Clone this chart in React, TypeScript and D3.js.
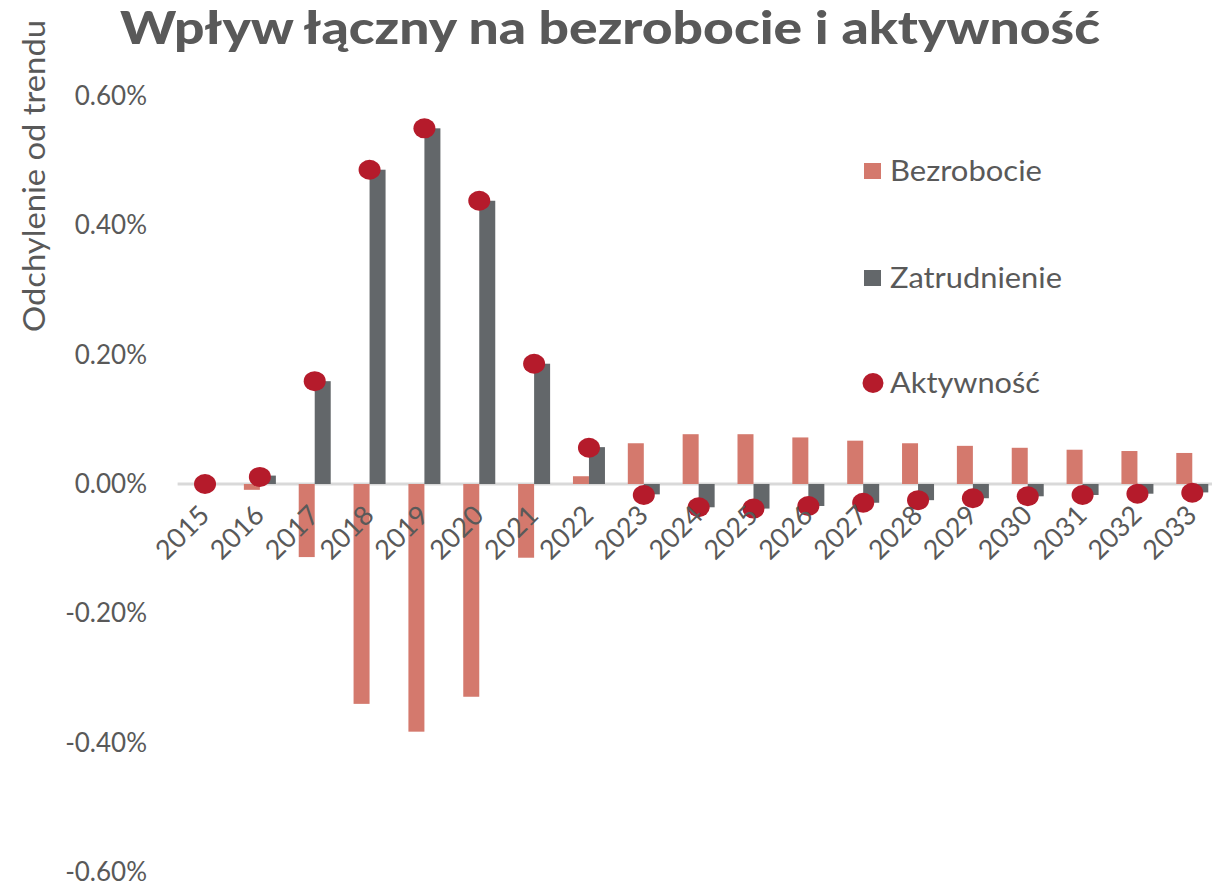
import React from "react";
import * as d3 from "d3";

const years = ["2015","2016","2017","2018","2019","2020","2021","2022","2023","2024","2025","2026","2027","2028","2029","2030","2031","2032","2033"];
const bezrobocie = [0, -0.009, -0.113, -0.340, -0.383, -0.329, -0.114, 0.012, 0.063, 0.077, 0.077, 0.072, 0.067, 0.063, 0.059, 0.056, 0.053, 0.051, 0.048];
const zatrudnienie = [0, 0.013, 0.159, 0.486, 0.550, 0.438, 0.186, 0.057, -0.016, -0.036, -0.038, -0.034, -0.029, -0.025, -0.022, -0.019, -0.017, -0.015, -0.013];
const aktywnosc = [0, 0.011, 0.159, 0.486, 0.550, 0.438, 0.186, 0.056, -0.017, -0.036, -0.038, -0.034, -0.029, -0.025, -0.022, -0.019, -0.017, -0.015, -0.0135];
const yTicks = [0.6, 0.4, 0.2, 0, -0.2, -0.4, -0.6];
const seriesNames = ["Bezrobocie", "Zatrudnienie", "Aktywność"];
const title = "Wpływ łączny na bezrobocie i aktywność";
const yTitle = "Odchylenie od trendu";

const W = 1212, H = 886;
const C_PINK = "#D4796D";
const C_GRAY = "#63676A";
const C_RED = "#B51B2B";
const C_TEXT = "#595959";
const FONT = "Lato, 'Open Sans', sans-serif";

export default function App() {
  const x = d3.scaleBand<string>().domain(years).range([177.6, 1219.7]).padding(0);
  const y = d3.scaleLinear().domain([-0.6, 0.6]).range([872, 96]);
  const bw = 16;
  const cx = (yr: string) => (x(yr) as number) + x.bandwidth() / 2;
  const y0 = y(0);
  const fmt = (v: number) => (v < 0 ? "-" : "") + Math.abs(v).toFixed(2) + "%";

  const legendY = [171, 278, 383];
  const legendLen = [152, 172, 150];

  return (
    <svg width={W} height={H} style={{ position: "absolute", left: 0, top: 0, display: "block" }} fontFamily={FONT}>
      <rect width={W} height={H} fill="#fff" />
      <text x={610} y={44} textAnchor="middle" fontSize={46} fontWeight={900} fill={C_TEXT} textLength={980} lengthAdjust="spacingAndGlyphs">{title}</text>
      <text transform={`translate(45,176) rotate(-90)`} textAnchor="middle" fontSize={30} fill={C_TEXT} textLength={312} lengthAdjust="spacingAndGlyphs">{yTitle}</text>
      {yTicks.map((t) => (
        <text key={t} x={147} y={y(t)} dy="0.35em" textAnchor="end" fontSize={26} fill={C_TEXT}>{fmt(t)}</text>
      ))}
      <line x1={177.6} x2={1219.7} y1={y0} y2={y0} stroke="#D9D9D9" strokeWidth={3} />
      {years.map((yr, i) => {
        const v = bezrobocie[i];
        return <rect key={"b" + yr} x={cx(yr) - bw} width={bw} y={Math.min(y(v), y0)} height={Math.abs(y(v) - y0)} fill={C_PINK} />;
      })}
      {years.map((yr, i) => {
        const v = zatrudnienie[i];
        return <rect key={"z" + yr} x={cx(yr)} width={bw} y={Math.min(y(v), y0)} height={Math.abs(y(v) - y0)} fill={C_GRAY} />;
      })}
      {years.map((yr, i) => (
        <ellipse key={"a" + yr} cx={cx(yr)} cy={y(aktywnosc[i])} rx={11} ry={10} fill={C_RED} />
      ))}
      {years.map((yr) => (
        <text key={"t" + yr} transform={`translate(${cx(yr) + 6},517) rotate(-45)`} textAnchor="end" fontSize={27} fill={C_TEXT}>{yr}</text>
      ))}
      <rect x={864} y={legendY[0] - 8} width={17} height={16} fill={C_PINK} />
      <rect x={864} y={legendY[1] - 8} width={17} height={16} fill={C_GRAY} />
      <ellipse cx={873} cy={legendY[2]} rx={10.5} ry={10} fill={C_RED} />
      {seriesNames.map((n, i) => (
        <text key={n} x={890} y={legendY[i]} dy="0.35em" fontSize={29} fill={C_TEXT} textLength={legendLen[i]} lengthAdjust="spacingAndGlyphs">{n}</text>
      ))}
    </svg>
  );
}
